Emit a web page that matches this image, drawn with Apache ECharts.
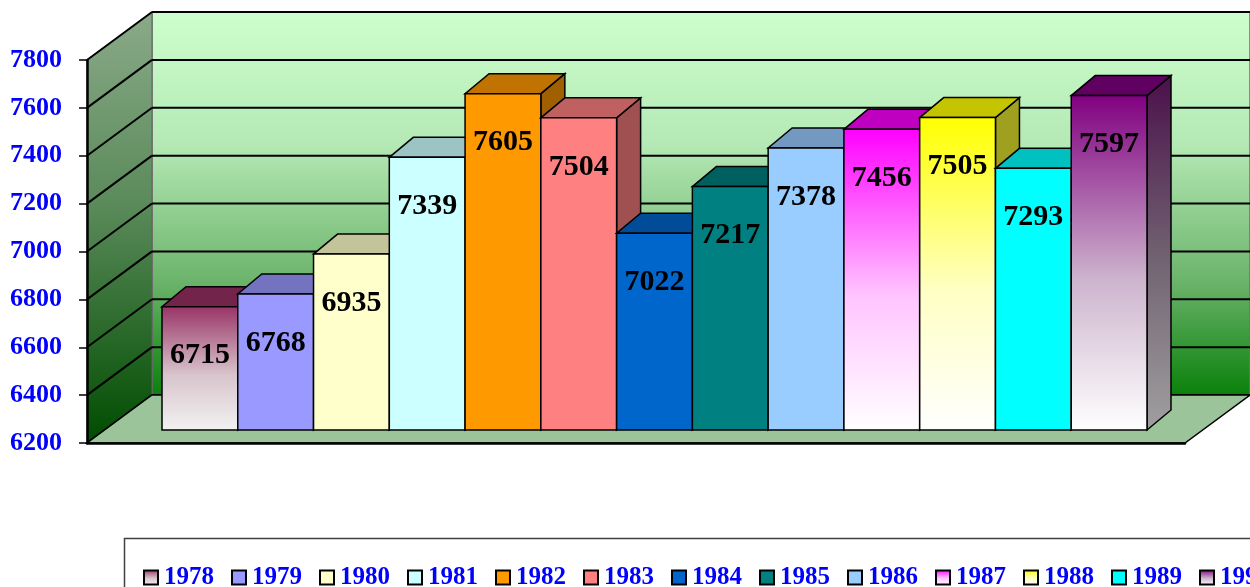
<!DOCTYPE html>
<html>
<head>
<meta charset="utf-8">
<script src="https://cdn.jsdelivr.net/npm/echarts@6/dist/echarts.min.js"></script>
<style>
  html, body { margin: 0; padding: 0; background: #fff; }
  #main { width: 1250px; height: 587px; }
</style>
</head>
<body>
<div id="main"></div>
<script>
  // data
  const years = ['1978', '1979', '1980', '1981', '1982', '1983', '1984', '1985', '1986', '1987', '1988', '1989', '1990'];
  const values = [6715, 6768, 6935, 7339, 7605, 7504, 7022, 7217, 7378, 7456, 7505, 7293, 7597];
  const yTicks = [6200, 6400, 6600, 6800, 7000, 7200, 7400, 7600, 7800];

  const yMin = yTicks[0];
  const yMax = yTicks[yTicks.length - 1];
  const serif = '"Liberation Serif", "Times New Roman", serif';

  const WALL = [65, -48];   // depth of the box
  const BAR = [24, -20];    // depth of a bar

  function grad(stops) {
    return new echarts.graphic.LinearGradient(0, 0, 0, 1,
      stops.map(s => ({ offset: s[0], color: s[1] })));
  }

  // front / top / side colours per bar
  const frontColors = [
    grad([[0, '#993366'], [0.55, '#d8c4cc'], [1, '#f2f2f2']]),
    '#9999ff', '#ffffcc', '#ccffff', '#ff9900', '#ff8080', '#0066cc', '#008080', '#99ccff',
    grad([[0, '#ff00ff'], [0.55, '#ffc4ff'], [1, '#ffffff']]),
    grad([[0, '#ffff00'], [0.55, '#ffffc4'], [1, '#ffffff']]),
    '#00ffff',
    grad([[0, '#800080'], [0.55, '#cdb4cd'], [1, '#ffffff']])
  ];
  const topColors = ['#72244a', '#7373c0', '#c4c49a', '#9cc4c4', '#c07300', '#c06060', '#004c99',
    '#006060', '#7399c0', '#c000c0', '#c4c400', '#00c0c0', '#600060'];
  const sideColors = ['#6a2a4a', '#6a6ab0', '#a0a080', '#80a8a8', '#a06000', '#a05050', '#003f80',
    '#005050', '#6080a0', '#a000a0', '#a0a020', '#00a0a0',
    grad([[0, '#4a104a'], [0.5, '#706070'], [1, '#a0a0a0']])];

  function renderWalls(params, api) {
    const a = api.coord([0, yMin]);
    const b = api.coord([1, yMax]);
    const [dx, dy] = WALL;
    return {
      type: 'group',
      children: [
        {
          type: 'rect',
          shape: { x: a[0] + dx, y: b[1] + dy, width: b[0] - a[0], height: a[1] - b[1] },
          style: {
            fill: grad([[0, '#ccffcc'], [0.35, '#b4e8b4'], [0.7, '#6cb46c'], [1, '#0a800a']]),
            stroke: '#707070', lineWidth: 1.5
          }
        },
        {
          type: 'polygon',
          shape: { points: [[a[0], a[1]], [a[0] + dx, a[1] + dy], [a[0] + dx, b[1] + dy], [a[0], b[1]]] },
          style: {
            fill: grad([[0, '#8aaa88'], [0.45, '#5a8a5a'], [1, '#004c00']]),
            stroke: '#606060', lineWidth: 1
          }
        }
      ]
    };
  }

  function renderGrid(params, api) {
    const p = api.coord([0, api.value(1)]);
    const q = api.coord([1, api.value(1)]);
    const [dx, dy] = WALL;
    return {
      type: 'group',
      children: [
        { type: 'line', shape: { x1: p[0], y1: p[1], x2: p[0] + dx, y2: p[1] + dy },
          style: { stroke: '#000', lineWidth: 2 } },
        { type: 'line', shape: { x1: p[0] + dx, y1: p[1] + dy, x2: q[0] + dx, y2: q[1] + dy },
          style: { stroke: '#000', lineWidth: 2 } }
      ]
    };
  }

  function renderFloor(params, api) {
    const a = api.coord([0, yMin]);
    const b = api.coord([1, yMin]);
    const [dx, dy] = WALL;
    return {
      type: 'polygon',
      shape: { points: [[a[0], a[1]], [b[0], b[1]], [b[0] + dx, b[1] + dy], [a[0] + dx, a[1] + dy]] },
      style: { fill: '#9cc49a', stroke: '#000', lineWidth: 1.5 }
    };
  }

  function barRenderer(i) {
    return function (params, api) {
      const top = api.coord([api.value(0), api.value(1)]);
      const base = api.coord([api.value(0), yMin]);
      const w = api.size([1, 0])[0];
      const L = top[0] - w / 2, R = top[0] + w / 2, T = top[1], B = base[1];
      const [dx, dy] = BAR;
      const line = { stroke: '#000', lineWidth: 1.5 };
      return {
        type: 'group',
        children: [
          { type: 'polygon',
            shape: { points: [[R, T], [R + dx, T + dy], [R + dx, B + dy], [R, B]] },
            style: Object.assign({ fill: sideColors[i] }, line) },
          { type: 'polygon',
            shape: { points: [[L, T], [R, T], [R + dx, T + dy], [L + dx, T + dy]] },
            style: Object.assign({ fill: topColors[i] }, line) },
          { type: 'rect',
            shape: { x: L, y: T, width: w, height: B - T },
            style: Object.assign({ fill: frontColors[i] }, line) },
          { type: 'text',
            style: {
              text: String(api.value(1)), x: top[0], y: T + 49,
              align: 'center', verticalAlign: 'middle',
              font: 'bold 30px ' + serif, fill: '#000'
            } }
        ]
      };
    };
  }

  let seriesData = [
    { type: 'custom', name: 'walls', xAxisIndex: 0, yAxisIndex: 0, z: 1, silent: true,
      renderItem: renderWalls, data: [[0, yMin]] },
    { type: 'custom', name: 'grid', xAxisIndex: 0, yAxisIndex: 0, z: 2, silent: true,
      renderItem: renderGrid, data: yTicks.map(v => [0, v]) },
    { type: 'custom', name: 'floor', xAxisIndex: 0, yAxisIndex: 0, z: 3, silent: true,
      renderItem: renderFloor, data: [[0, yMin]] }
  ];

  years.forEach((year, i) => {
    seriesData.push({
      type: 'custom',
      name: year,
      xAxisIndex: 1,
      yAxisIndex: 1,
      z: 10 + i,
      itemStyle: { color: frontColors[i] },
      renderItem: barRenderer(i),
      data: [[i, values[i]]]
    });
  });

  const chart = echarts.init(document.getElementById('main'));

  let option = {
    animation: false,
    grid: [
      { left: 87, top: 60, width: 1098, height: 383 },
      { left: 162, top: 47, width: 985, height: 383 }
    ],
    xAxis: [
      { type: 'value', gridIndex: 0, min: 0, max: 1, z: 50,
        axisLine: { show: true, lineStyle: { color: '#000', width: 2.5 } },
        axisTick: { show: false }, axisLabel: { show: false }, splitLine: { show: false } },
      { type: 'category', gridIndex: 1, data: years, show: false }
    ],
    yAxis: [
      { type: 'value', gridIndex: 0, min: yMin, max: yMax, interval: 200, z: 50,
        axisLine: { show: true, lineStyle: { color: '#000', width: 2.5 } },
        axisTick: { show: true, length: 8, lineStyle: { color: '#000', width: 1.5 } },
        axisLabel: { margin: 25, color: '#0000ff', fontWeight: 'bold', fontSize: 26, fontFamily: serif,
          formatter: v => String(v) },
        splitLine: { show: false } },
      { type: 'value', gridIndex: 1, min: yMin, max: yMax, show: false }
    ],
    legend: {
      data: years,
      left: 138,
      top: 560,
      width: 1300,
      icon: 'rect',
      itemWidth: 14,
      itemHeight: 14,
      itemGap: 17,
      itemStyle: { borderColor: '#000', borderWidth: 2 },
      textStyle: { color: '#0000ff', fontWeight: 'bold', fontSize: 25, fontFamily: serif, padding: [0, 0, 0, 1] },
      selectedMode: false
    },
    graphic: [
      { type: 'rect', left: 122, top: 536, silent: true,
        shape: { width: 1200, height: 100 },
        style: { fill: 'none', stroke: '#404040', lineWidth: 1.5 } }
    ],
    series: seriesData
  };

  chart.setOption(option);
</script>
</body>
</html>
